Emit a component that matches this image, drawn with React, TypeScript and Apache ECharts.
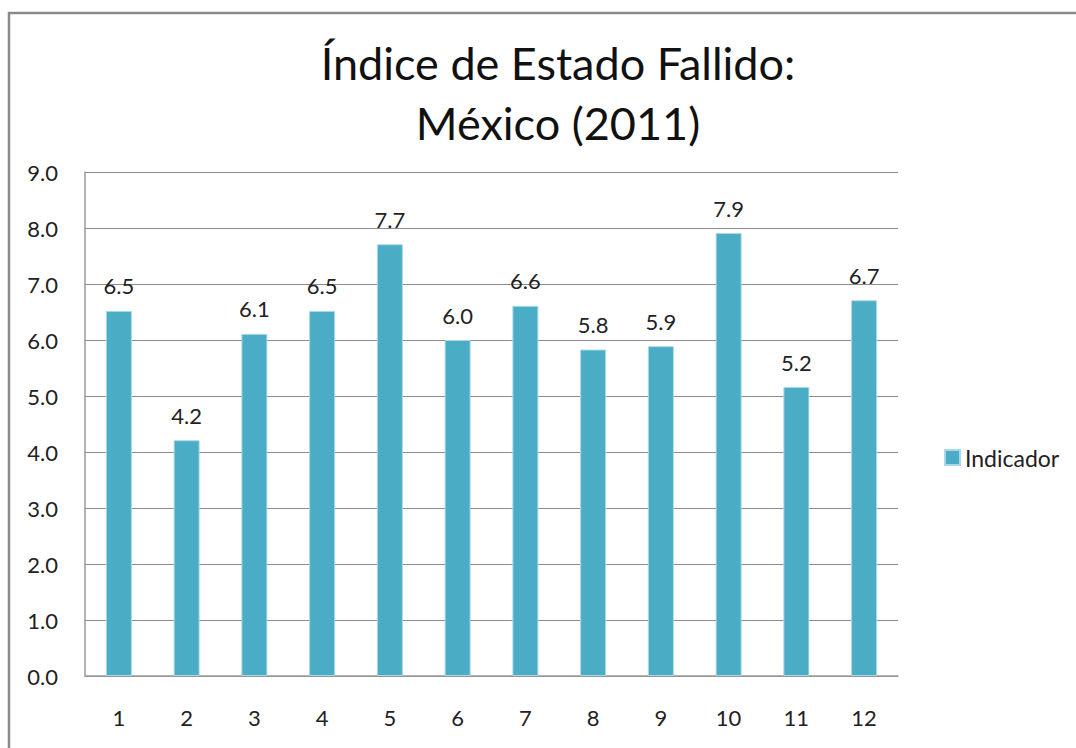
import React, { useEffect, useRef } from "react";
import * as echarts from "echarts";

const categories = ["1", "2", "3", "4", "5", "6", "7", "8", "9", "10", "11", "12"];
const values = [6.52, 4.21, 6.11, 6.52, 7.71, 6.0, 6.61, 5.83, 5.89, 7.91, 5.16, 6.71];
const yTicks = { min: 0, max: 9, interval: 1 };
const seriesName = "Indicador";
const titleText = "Índice de Estado Fallido:\nMéxico (2011)";

const FONT = "Lato, 'Noto Sans', sans-serif";

export default function App() {
  const ref = useRef<HTMLDivElement>(null);
  useEffect(() => {
    document.body.style.margin = "0";
    const chart = echarts.init(ref.current!, null, { renderer: "svg" });
    chart.setOption({
      animation: false,
      backgroundColor: "#ffffff",
      textStyle: { fontFamily: FONT },
      title: {
        text: titleText,
        left: 553,
        textAlign: "center",
        top: 28,
        textStyle: {
          fontFamily: FONT,
          fontSize: 45,
          fontWeight: "normal",
          color: "#111111",
          lineHeight: 60,
        },
      },
      graphic: [
        {
          type: "rect",
          shape: { x: 9, y: 13, width: 1200, height: 900 },
          style: { fill: "none", stroke: "#8a8a8a", lineWidth: 2.5 },
          silent: true,
        },
      ],
      legend: {
        data: [seriesName],
        left: 939,
        top: 441,
        itemWidth: 15,
        itemHeight: 15,
        itemGap: 8,
        icon: "rect",
        textStyle: { fontFamily: FONT, fontSize: 23, color: "#222222", padding: [0, 0, 0, 0] },
      },
      grid: { left: 85, top: 172, width: 813, height: 504, containLabel: false },
      xAxis: {
        type: "category",
        data: categories,
        axisLine: { show: true, lineStyle: { color: "#9a9a9a", width: 1.5 } },
        axisTick: { show: false },
        axisLabel: { fontFamily: FONT, fontSize: 22, color: "#222222", margin: 30 },
      },
      yAxis: {
        type: "value",
        min: yTicks.min,
        max: yTicks.max,
        interval: yTicks.interval,
        axisLine: { show: true, lineStyle: { color: "#9a9a9a", width: 1.5 } },
        axisTick: { show: false },
        axisLabel: {
          fontFamily: FONT,
          fontSize: 22,
          color: "#222222",
          margin: 27,
          formatter: (v: number) => v.toFixed(1),
        },
        splitLine: { show: true, lineStyle: { color: "#8c8c8c", width: 1 } },
      },
      series: [
        {
          name: seriesName,
          type: "bar",
          data: values,
          barWidth: 26,
          itemStyle: { color: "#4bacc6", borderColor: "#a9d9e6", borderWidth: 1 },
          label: {
            show: true,
            position: "top",
            distance: 14,
            fontFamily: FONT,
            fontSize: 22,
            color: "#222222",
            formatter: (p: any) => Number(p.value).toFixed(1),
          },
        },
      ],
    });
    return () => chart.dispose();
  }, []);
  return <div ref={ref} style={{ width: 1076, height: 748 }} />;
}
